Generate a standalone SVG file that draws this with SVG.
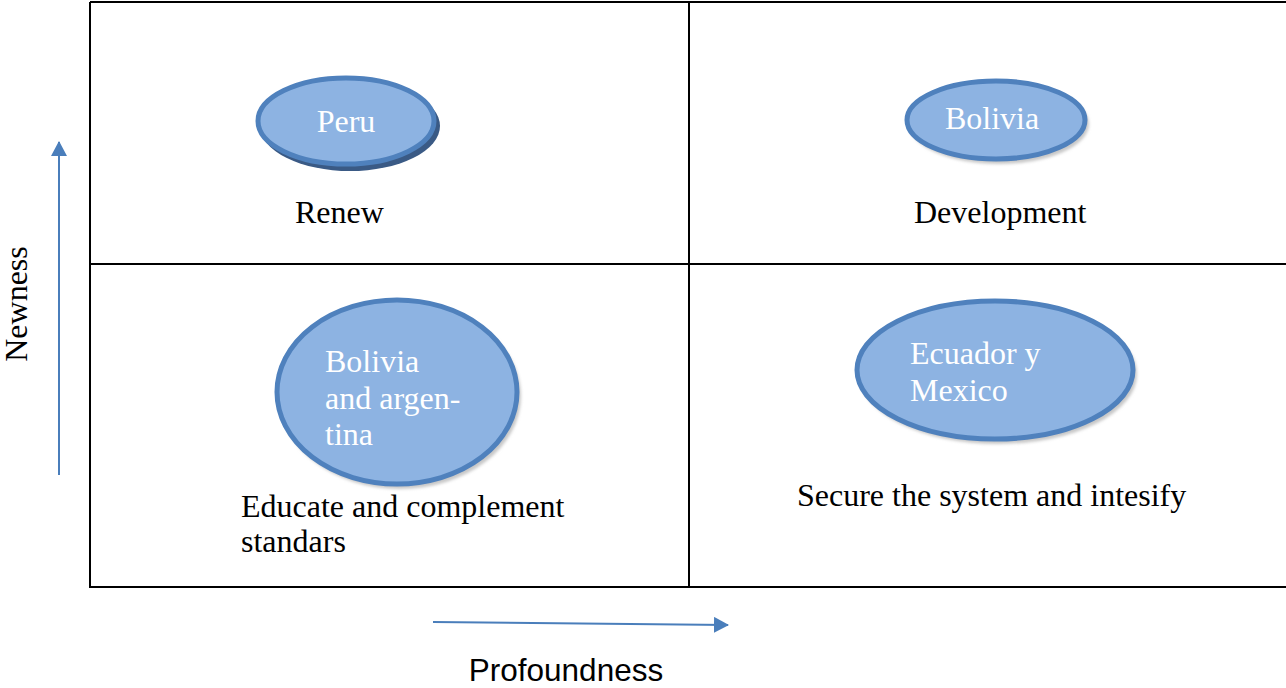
<svg xmlns="http://www.w3.org/2000/svg" width="1286" height="688" viewBox="0 0 1286 688">
  <style>
    .grid { stroke: #000; stroke-width: 2; fill: none; }
    .oval { fill: #8db3e2; stroke: #4f81bd; stroke-width: 5; }
    .shade { fill: #c8c8c8; }
    .deep { fill: #3a5a85; }
    .in { font-family: "Liberation Serif", serif; font-size: 32px; fill: #fff; }
    .lbl { font-family: "Liberation Serif", serif; font-size: 32px; fill: #000; }
    .axis { font-family: "Liberation Sans", sans-serif; font-size: 31.5px; fill: #000; }
    .arr { stroke: #4a7ebb; stroke-width: 2; fill: none; }
  </style>
  <defs>
    <marker id="head" markerWidth="16" markerHeight="16" refX="14" refY="8" orient="auto" markerUnits="userSpaceOnUse">
      <path d="M0,0 L15,8 L0,16 Z" fill="#4a7ebb"/>
    </marker>
    <filter id="soft" x="-10%" y="-10%" width="120%" height="120%">
      <feGaussianBlur stdDeviation="1.5"/>
    </filter>
  </defs>
  <rect width="1286" height="688" fill="#fff"/>

  <!-- quadrant grid -->
  <g id="grid">
    <path class="grid" d="M90,2 H1290 M90,2 V587 H1290 M689,2 V587 M90,264 H1290"/>
  </g>

  <!-- axis arrows -->
  <g id="connectors">
    <line class="arr" x1="59" y1="475" x2="59" y2="142" marker-end="url(#head)"/>
    <line class="arr" x1="433" y1="622" x2="728" y2="625" marker-end="url(#head)"/>
  </g>

  <g id="axis-newness">
    <text class="lbl" transform="translate(27,304) rotate(-90)" text-anchor="middle">Newness</text>
  </g>
  <g id="axis-profoundness">
    <text class="axis" x="566" y="681" text-anchor="middle">Profoundness</text>
  </g>

  <!-- top left: Peru / Renew -->
  <g id="node-peru">
    <ellipse class="deep" cx="350" cy="126" rx="90" ry="45"/>
    <ellipse class="oval" cx="346" cy="121" rx="88" ry="43" stroke-width="6"/>
    <text class="in" x="346" y="132" text-anchor="middle">Peru</text>
  </g>
  <g id="label-renew">
    <text class="lbl" x="295" y="223">Renew</text>
  </g>

  <!-- top right: Bolivia / Development -->
  <g id="node-bolivia">
    <ellipse class="shade" cx="999" cy="124" rx="90" ry="40" filter="url(#soft)"/>
    <ellipse class="oval" cx="996" cy="120" rx="89" ry="39"/>
    <text class="in" x="992" y="129" text-anchor="middle">Bolivia</text>
  </g>
  <g id="label-development">
    <text class="lbl" x="914" y="223">Development</text>
  </g>

  <!-- bottom left: Bolivia and argentina -->
  <g id="node-bolivia-argentina">
    <ellipse class="shade" cx="400" cy="396" rx="121" ry="93" filter="url(#soft)"/>
    <ellipse class="oval" cx="397" cy="392" rx="120" ry="92"/>
    <text class="in" x="325" y="372">Bolivia</text>
    <text class="in" x="325" y="409">and argen-</text>
    <text class="in" x="325" y="445">tina</text>
  </g>
  <g id="label-educate">
    <text class="lbl" x="241" y="517">Educate and complement</text>
    <text class="lbl" x="241" y="552">standars</text>
  </g>

  <!-- bottom right: Ecuador y Mexico -->
  <g id="node-ecuador-mexico">
    <ellipse class="shade" cx="998" cy="374" rx="139" ry="70" filter="url(#soft)"/>
    <ellipse class="oval" cx="995" cy="370" rx="138" ry="69"/>
    <text class="in" x="910" y="364">Ecuador y</text>
    <text class="in" x="910" y="401">Mexico</text>
  </g>
  <g id="label-secure">
    <text class="lbl" x="797" y="506">Secure the system and intesify</text>
  </g>
</svg>
